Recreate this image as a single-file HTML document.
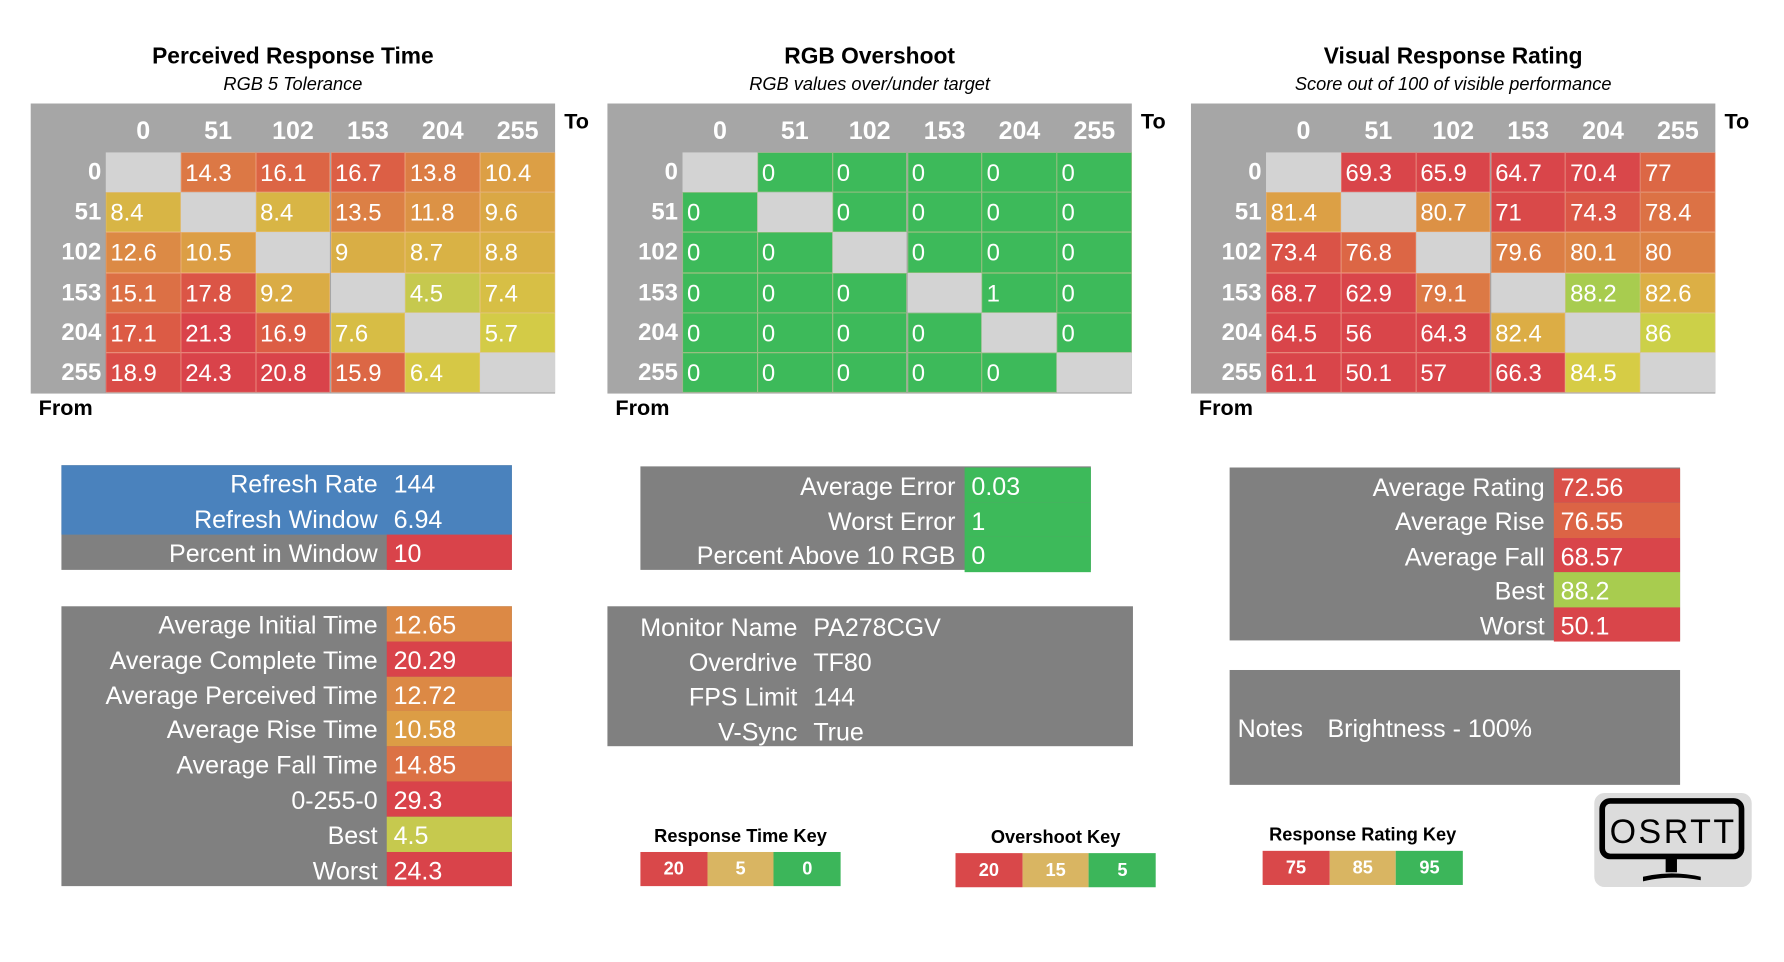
<!DOCTYPE html>
<html><head><meta charset="utf-8">
<style>
html,body{margin:0;padding:0;background:#fff;width:1784px;height:962px;overflow:hidden}
#w{position:absolute;left:0;top:0;width:1568px;height:846px;transform:scale(1.1375);transform-origin:0 0;font-family:"Liberation Sans",sans-serif}
.a{position:absolute}
.t{font-weight:bold;font-size:20px;text-align:center;color:#000}
.s{font-style:italic;font-size:16px;text-align:center;color:#000}
.c{position:absolute;color:#fff;font-size:21px;line-height:37px;box-sizing:border-box;padding-left:4px;white-space:nowrap}
.h{position:absolute;color:#fff;font-size:22px;font-weight:bold;line-height:45px;text-align:center}
.rl{position:absolute;color:#fff;font-size:21px;font-weight:bold;line-height:36px;text-align:right}
.lb{position:absolute;font-weight:bold;font-size:19px;color:#000}
.p{position:absolute;color:#fff;font-size:22px;white-space:nowrap}
.k{position:absolute;color:#fff;font-weight:bold;font-size:16px;text-align:center;line-height:31px}
</style></head><body><div id="w"></div>
<script>
var W=document.getElementById('w');
function el(cls,x,y,w,h,txt,bg,extra){var d=document.createElement('div');d.className=cls;d.style.left=x+'px';d.style.top=y+'px';if(w!=null)d.style.width=w+'px';if(h!=null)d.style.height=h+'px';if(bg)d.style.background=bg;if(txt!=null)d.textContent=txt;if(extra)d.style.cssText+=extra;W.appendChild(d);return d;}
function lerp(st,v){if(v<=st[0][0])return c(st[0][1]);for(var i=1;i<st.length;i++){if(v<=st[i][0]){var f=(v-st[i-1][0])/(st[i][0]-st[i-1][0]);var a=st[i-1][1],b=st[i][1];return c([a[0]+(b[0]-a[0])*f,a[1]+(b[1]-a[1])*f,a[2]+(b[2]-a[2])*f]);}}return c(st[st.length-1][1]);}
function c(a){return 'rgb('+Math.round(a[0])+','+Math.round(a[1])+','+Math.round(a[2])+')';}
var RT=[[4.5,[198,201,78]],[6,[214,204,69]],[8.4,[216,181,69]],[10.5,[220,158,69]],[12.6,[220,138,69]],[14.3,[220,120,69]],[17,[220,92,69]],[20,[217,67,74]]];
var RR=[[70,[217,69,74]],[75,[219,90,70]],[78,[220,110,69]],[80,[220,130,69]],[81.4,[220,160,69]],[82.5,[220,174,69]],[84.5,[214,204,69]],[86,[204,208,72]],[88.2,[168,204,79]],[95,[60,182,90]]];
function rt(v){return lerp(RT,v)} function rr(v){return lerp(RR,v)} function os(v){return '#3dba5a'}
var heads=['0','51','102','153','204','255'];
function table(x0,title,sub,data,col){
 var w=461;
 el('a t',x0-40,39,w+80,null,title);
 el('a s',x0-40,66,w+80,null,sub);
 el('a',x0,91,w,255,null,'#a6a6a6');
 var cw=(w-66)/6;
 for(var j=0;j<6;j++)el('h',x0+66+j*cw,92,cw,43,heads[j]);
 el('lb',x0+w+8,97,null,null,'To');
 el('lb',x0+7,349,null,null,'From');
 for(var i=0;i<6;i++){
  var y=134+i*35.2;
  el('rl',x0,y,62,35,heads[i]);
  for(var j=0;j<6;j++){
   var v=data[i][j];
   var d=el('c',x0+66+j*cw,y,cw,35.2,v==null?'':String(v),v==null?'#d3d3d3':col(v));
   if(v!=null)d.style.boxShadow='inset 0 0 0 0.5px rgba(255,200,170,0.5)';
  }
 }
}
var n=null;
table(27,'Perceived Response Time','RGB 5 Tolerance',[[n,14.3,16.1,16.7,13.8,10.4],[8.4,n,8.4,13.5,11.8,9.6],[12.6,10.5,n,9,8.7,8.8],[15.1,17.8,9.2,n,4.5,7.4],[17.1,21.3,16.9,7.6,n,5.7],[18.9,24.3,20.8,15.9,6.4,n]],rt);
table(534,'RGB Overshoot','RGB values over/under target',[[n,0,0,0,0,0],[0,n,0,0,0,0],[0,0,n,0,0,0],[0,0,0,n,1,0],[0,0,0,0,n,0],[0,0,0,0,0,n]],os);
table(1047,'Visual Response Rating','Score out of 100 of visible performance',[[n,69.3,65.9,64.7,70.4,77],[81.4,n,80.7,71,74.3,78.4],[73.4,76.8,n,79.6,80.1,80],[68.7,62.9,79.1,n,88.2,82.6],[64.5,56,64.3,82.4,n,86],[61.1,50.1,57,66.3,84.5,n]],rr);

function panel(x,y,w,h,split,rows,rh,top){
 el('a',x,y,w,h,null,'#808080');
 for(var i=0;i<rows.length;i++){
  var r=rows[i],ry=y+top+i*rh;
  if(r[2])el('a',x+split,ry,w-split,rh,null,r[2]);
  if(r[3])el('a',x,ry,w,rh,null,r[3]);
  el('p',x,ry+2,split-8,rh,r[0],null,'text-align:right;line-height:'+rh+'px');
  el('p',x+split+6,ry+2,null,rh,r[1],null,'line-height:'+rh+'px');
 }
}
var B='#4a82bd';
panel(54,409,396,92,286,[['Refresh Rate','144',null,B],['Refresh Window','6.94',null,B],['Percent in Window','10',rt(20)]],30.7,0);
panel(54,533,396,246,286,[['Average Initial Time','12.65',rt(12.65)],['Average Complete Time','20.29',rt(20.29)],['Average Perceived Time','12.72',rt(12.72)],['Average Rise Time','10.58',rt(10.58)],['Average Fall Time','14.85',rt(14.85)],['0-255-0','29.3',rt(29.3)],['Best','4.5',rt(4.5)],['Worst','24.3',rt(24.3)]],30.8,0);
panel(563,410,396,91,285,[['Average Error','0.03','#3dba5a'],['Worst Error','1','#3dba5a'],['Percent Above 10 RGB','0','#3dba5a']],30.5,1);
panel(534,533,462,123,175,[['Monitor Name','PA278CGV'],['Overdrive','TF80'],['FPS Limit','144'],['V-Sync','True']],30.7,2);
panel(1081,411,396,152,285,[['Average Rating','72.56',rr(72.56)],['Average Rise','76.55',rr(76.55)],['Average Fall','68.57',rr(68.57)],['Best','88.2',rr(88.2)],['Worst','50.1',rr(50.1)]],30.4,1);
el('a',1081,589,396,101,null,'#808080');
el('p',1088,628,null,null,'Notes');
el('p',1167,628,null,null,'Brightness - 100%');

function key(x,y,title,vals){
 el('a',x-40,y-22,256,null,title,null,'font-weight:bold;font-size:16px;text-align:center');
 var cols=['#d9484a','#d9b562','#3cb65a'];
 for(var i=0;i<3;i++)el('k',x+i*58.7,y,58.7,30,vals[i],cols[i]);
}
key(563,749,'Response Time Key',['20','5','0']);
key(840,750,'Overshoot Key',['20','15','5']);
key(1110,748,'Response Rating Key',['75','85','95']);
</script>
<svg style="position:absolute;left:1594px;top:793px" width="158" height="94" viewBox="0 0 139 83">
<rect x="0" y="0" width="139" height="83" rx="9" fill="#dcdcdc"/>
<rect x="7" y="7" width="123" height="49" rx="7" fill="none" stroke="#000" stroke-width="5"/>
<text x="68.5" y="44" text-anchor="middle" font-family="Liberation Sans,sans-serif" font-size="30" fill="#000" textLength="110">OSRTT</text>
<rect x="63" y="56" width="10" height="14" fill="#000"/>
<path d="M43 74 Q68 68 94 74 L94 77 Q68 72 43 78Z" fill="#000"/>
</svg>
</body></html>
